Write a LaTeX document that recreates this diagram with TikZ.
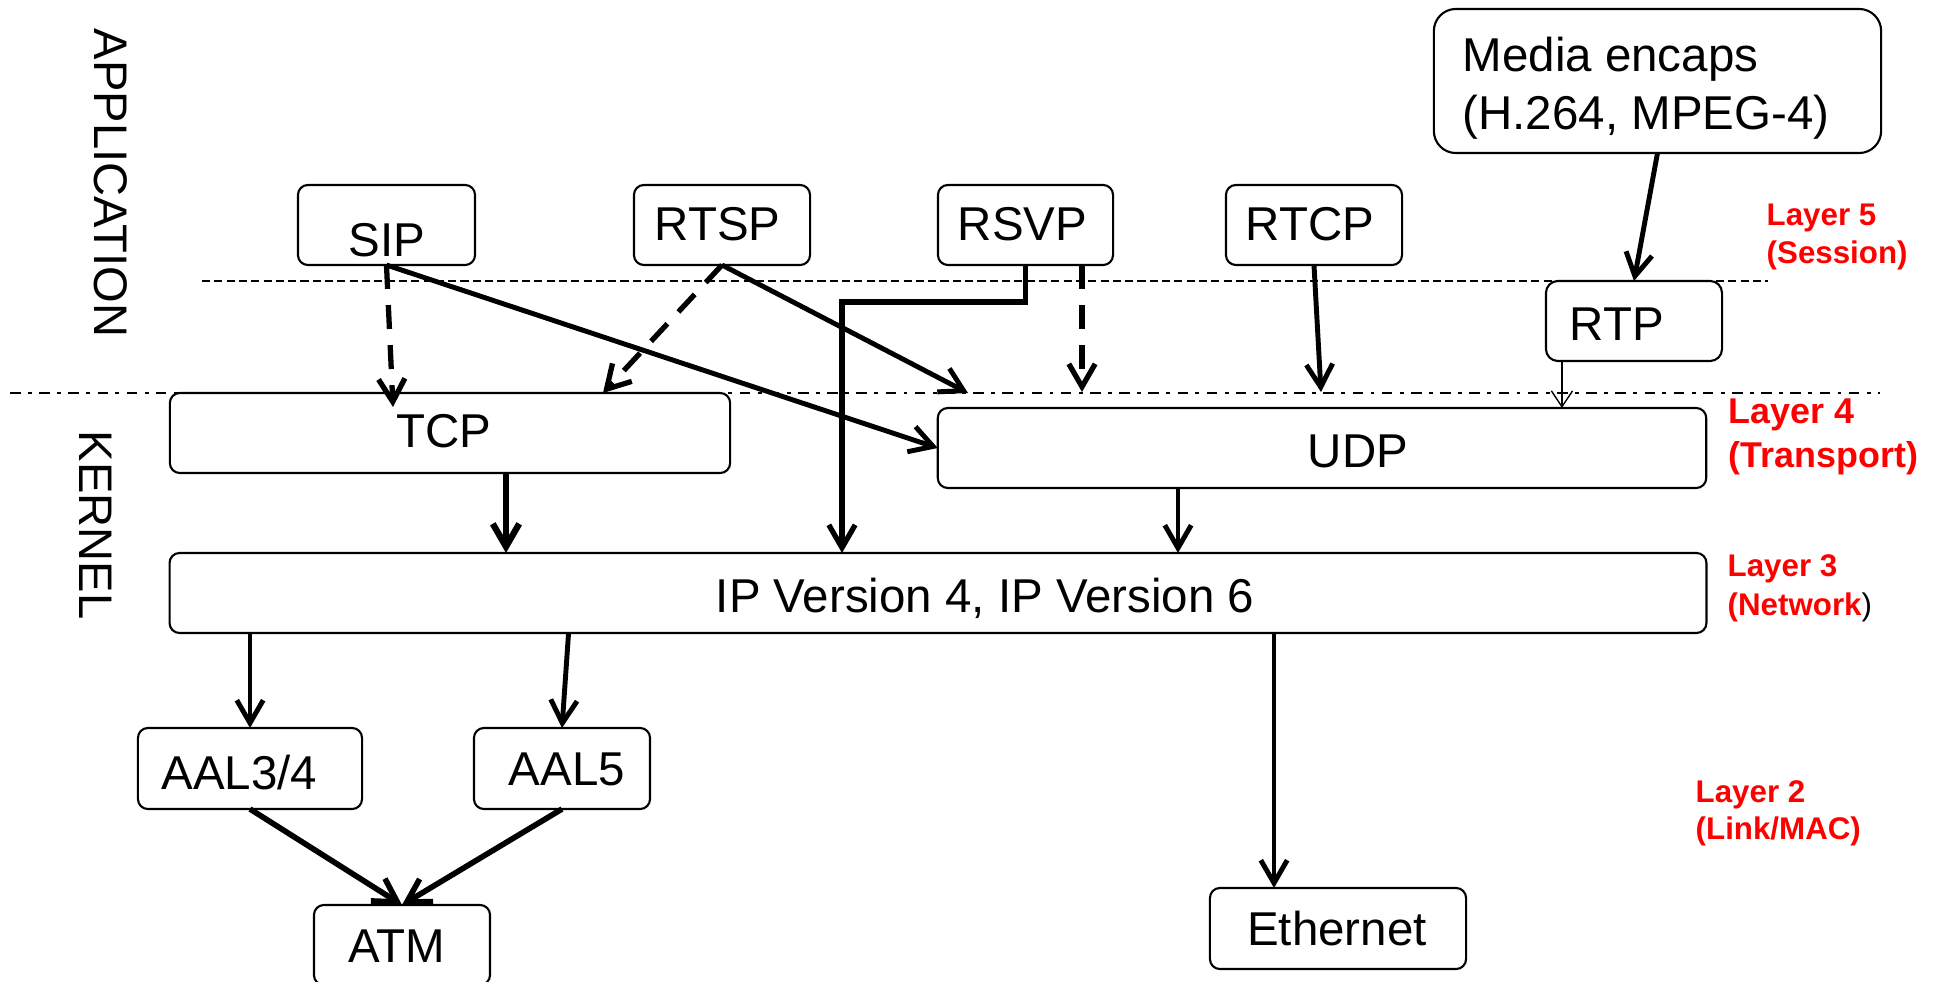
\documentclass[tikz,border=0pt]{standalone}
\usepackage{fontspec}
\setmainfont{Liberation Sans}
\usetikzlibrary{arrows.meta,calc}
\begin{document}
\begin{tikzpicture}[x=0.01cm,y=-0.01cm,
  box/.style={draw,line width=0.6pt,rounded corners=0.1cm,inner sep=0pt,outer sep=0pt,fill=white},
  txt/.style={font=\fontsize{13.5}{16}\selectfont,inner sep=0pt,anchor=base},
  lbl/.style={font=\fontsize{8.9}{10}\selectfont\bfseries,text=red,inner sep=0pt,anchor=base west},
  lblbig/.style={lbl,font=\fontsize{10.2}{12}\selectfont\bfseries},
  arr/.style={line width=1.4pt,-{Straight Barb[length=6.5pt,width=7.5pt]}},
  darr/.style={arr,line width=1.5pt,dash pattern=on 6.8pt off 4.6pt},
  thinarr/.style={line width=0.4pt,-{Straight Barb[length=4.5pt,width=6pt]}},
  sessline/.style={line width=0.55pt,dash pattern=on 2.3pt off 1.2pt},
  kernline/.style={line width=0.7pt,dash pattern=on 3pt off 2.1pt on 1.1pt off 2.1pt}
]
\useasboundingbox (0,0) rectangle (1944,982);

% layer boundaries
\draw[sessline] (202,281) -- (1768,281);
\draw[kernline] (10,393) -- (1880,393);

% side labels
\node[font=\fontsize{13.4}{16}\selectfont,rotate=-90,inner sep=0pt] (app) at (111,183) {APPLICATION};
\node[font=\fontsize{13.4}{16}\selectfont,rotate=-90,inner sep=0pt] (kern) at (96,525) {KERNEL};

% boxes
\node[box,minimum width=4.47cm,minimum height=1.44cm,rounded corners=0.22cm] (media) at (1657.5,81) {};
\node[txt,anchor=base west] (mediat1) at (1462,72) {Media encaps};
\node[txt,anchor=base west] (mediat2) at (1462,130) {(H.264, MPEG-4)};

\node[box,minimum width=1.77cm,minimum height=0.8cm] (sip) at (386.5,225) {};
\node[txt] (sipt) at (387,257) {SIP};
\node[box,minimum width=1.76cm,minimum height=0.8cm] (rtsp) at (722,225) {};
\node[txt] (rtspt) at (717.5,241) {RTSP};
\node[box,minimum width=1.75cm,minimum height=0.8cm] (rsvp) at (1025.5,225) {};
\node[txt] (rsvpt) at (1022.5,241) {RSVP};
\node[box,minimum width=1.76cm,minimum height=0.8cm] (rtcp) at (1314,225) {};
\node[txt] (rtcpt) at (1310,241) {RTCP};
\node[box,minimum width=1.76cm,minimum height=0.8cm,rounded corners=0.12cm] (rtp) at (1634,321) {};
\node[txt] (rtpt) at (1617,341) {RTP};

\node[box,minimum width=5.6cm,minimum height=0.8cm] (tcp) at (450,433) {};
\node[txt] (tcpt) at (444,448) {TCP};
\node[box,minimum width=7.68cm,minimum height=0.8cm] (udp) at (1322,448) {};
\node[txt] (udpt) at (1358,468) {UDP};
\node[box,minimum width=15.36cm,minimum height=0.8cm] (ip) at (938,593) {};
\node[txt] (ipt) at (985,613) {IP Version 4, IP Version 6};

\node[box,minimum width=2.24cm,minimum height=0.81cm] (aal34) at (250,768.5) {};
\node[txt] (aal34t) at (239.5,789) {AAL3/4};
\node[box,minimum width=1.76cm,minimum height=0.81cm] (aal5) at (562,768.5) {};
\node[txt] (aal5t) at (567,785) {AAL5};
\node[box,minimum width=1.76cm,minimum height=0.8cm] (atm) at (402,945) {};
\node[txt] (atmt) at (397,962) {ATM};
\node[box,minimum width=2.56cm,minimum height=0.81cm] (eth) at (1338,928.5) {};
\node[txt] (etht) at (1337,945) {Ethernet};

% layer labels
\node[lbl] (l5a) at (1766,226) {Layer 5};
\node[lbl] (l5b) at (1766,264) {(Session)};
\node[lblbig] (l4a) at (1728,424) {Layer 4};
\node[lblbig] (l4b) at (1728,468) {(Transport)};
\node[lbl] (l3a) at (1727,577) {Layer 3};
\node[lbl] (l3b) at (1727,616) {(Network{\mdseries\color{black})}};
\node[lbl] (l2a) at (1695,802) {Layer 2};
\node[lbl] (l2b) at (1695,840) {(Link/MAC)};

% connectors
\coordinate (tcpA) at (393,407);
\draw[darr] (sip.south) -- (tcpA);
\draw[arr] (sip.south) -- (udp.west);
\coordinate (tcpB) at (603,393);
\draw[darr] (rtsp.south) -- (tcpB);
\coordinate (udpA) at (968,393);
\draw[arr] (rtsp.south) -- (udpA);
\coordinate (ipA) at (842,553);
\draw[arr,line width=1.5pt] (rsvp.south) -- ++(0,37) -| (ipA);
\coordinate (rsvpB) at ($(rsvp.south)+(56.5,0)$);
\coordinate (udpB) at (1082,392);
\draw[darr] (rsvpB) -- (udpB);
\coordinate (udpC) at (1321,392);
\draw[arr] (rtcp.south) -- (udpC);
\draw[arr] (media.south) -- (rtp.north);
\coordinate (rtpB) at ($(rtp.south west)+(16,0)$);
\draw[thinarr] (rtpB) -- (rtpB |- udp.north);
\coordinate (tcpC) at ($(tcp.south)+(56,0)$);
\draw[arr,line width=1.8pt] (tcpC) -- (tcpC |- ip.north);
\coordinate (udpD) at ($(udp.south)+(-144,0)$);
\draw[arr] (udpD) -- (udpD |- ip.north);
\draw[arr] (ip.south -| aal34.north) -- (aal34.north);
\coordinate (ipB) at ($(ip.south west)+(399,0)$);
\draw[arr] (ipB) -- (aal5.north);
\coordinate (ethA) at ($(eth.north)+(-64,0)$);
\draw[arr] (ethA |- ip.south) -- (ethA);
\draw[arr,line width=1.6pt] (aal34.south) -- (atm.north);
\draw[arr,line width=1.6pt] (aal5.south) -- (atm.north);
\end{tikzpicture}
\end{document}
